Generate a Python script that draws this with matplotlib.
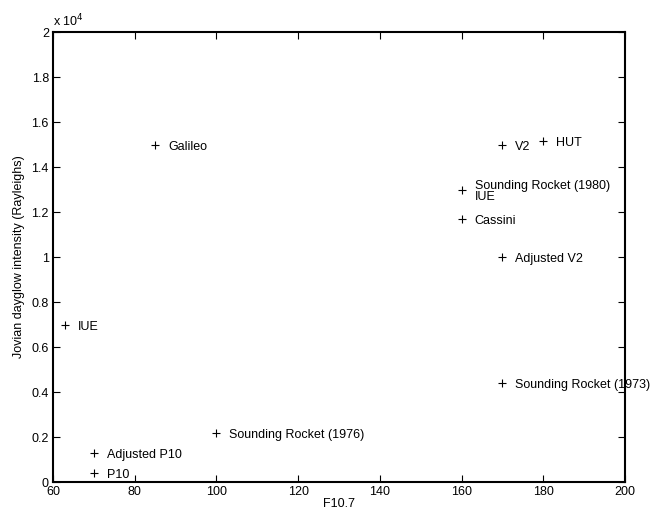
import matplotlib
matplotlib.use('Agg')
import matplotlib.pyplot as plt
from matplotlib.ticker import FuncFormatter

plt.rcParams['font.family'] = ['Liberation Sans', 'DejaVu Sans']

# F10.7 and Jovian dayglow intensity (Rayleighs)
f107 = [85, 63, 70, 70, 100, 170, 180, 160, 160, 170, 170]
intensity = [15000, 7000, 1300, 400, 2200, 15000, 15150, 13000, 11700, 10000, 4400]
labels = ['Galileo', 'IUE', 'Adjusted P10', 'P10', 'Sounding Rocket (1976)',
          'V2', 'HUT', 'Sounding Rocket (1980)\nIUE', 'Cassini', 'Adjusted V2',
          'Sounding Rocket (1973)']

fig = plt.figure(figsize=(6.52, 5.13), dpi=100)
ax = fig.add_axes([0.0813, 0.0604, 0.8773, 0.8772])

ax.plot(f107, intensity, '+', color='black', markersize=6, markeredgewidth=0.8)
for x, y, lab in zip(f107, intensity, labels):
    ax.annotate(lab, (x, y), xytext=(13, -2), textcoords='offset pixels',
                ha='left', va='center', fontsize=9, linespacing=0.9, zorder=1)

ax.set_xlim(60, 200)
ax.set_ylim(0, 20000)
ax.set_xticks(range(60, 201, 20))
ax.set_yticks(range(0, 20001, 2000))
ax.yaxis.set_major_formatter(FuncFormatter(lambda v, p: '%g' % (v / 1e4)))
ax.tick_params(direction='in', top=True, right=True, length=5, width=0.8,
               labelsize=9, pad=3)
for s in ax.spines.values():
    s.set_linewidth(1.5)

ax.text(0.0, 1.005, r'x 10$^4$', transform=ax.transAxes, fontsize=9,
        ha='left', va='bottom')
ax.set_xlabel('F10.7', fontsize=9, labelpad=0)
ax.set_ylabel('Jovian dayglow intensity (Rayleighs)', fontsize=9, labelpad=5)

fig.savefig('out.png', dpi=100)
